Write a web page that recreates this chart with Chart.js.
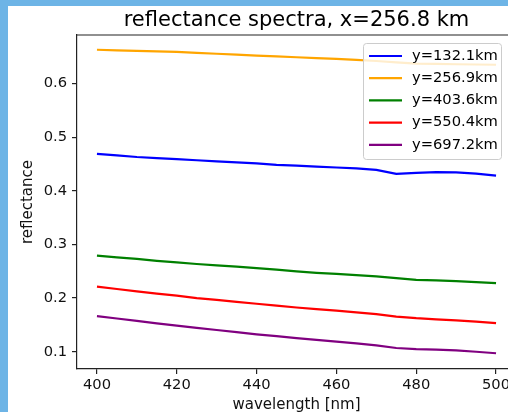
<!DOCTYPE html>
<html>
<head>
<meta charset="utf-8">
<script src="https://cdn.jsdelivr.net/npm/chart.js@4"></script>
<style>
  html, body { margin: 0; padding: 0; overflow: hidden; }
  body { background: #6db4e6; width: 508px; height: 412px; position: relative; }
  #wrap { position: absolute; left: 8px; top: 6px; width: 520px; height: 420px; background: #fff; }
  canvas { display: block; }
</style>
</head>
<body>
<div id="wrap"><canvas id="spectra" width="520" height="420"></canvas></div>
<script>
// wavelength samples [nm]
const wavelengths = [400, 405, 410, 415, 420, 425, 430, 435, 440, 445, 450,
                     455, 460, 465, 470, 475, 480, 485, 490, 495, 500];

const seriesLabels = ['y=132.1km', 'y=256.9km', 'y=403.6km', 'y=550.4km', 'y=697.2km'];
const seriesColors = ['#0000ff', '#ffa500', '#008000', '#ff0000', '#800080'];

// reflectance
const refl132 = [0.469, 0.466, 0.463, 0.461, 0.459, 0.457, 0.455, 0.453, 0.451, 0.4485, 0.447,
                 0.445, 0.4435, 0.442, 0.439, 0.4315, 0.4335, 0.4348, 0.4345, 0.432, 0.4285];
const refl257 = [0.663, 0.662, 0.661, 0.660, 0.659, 0.657, 0.6555, 0.654, 0.652, 0.6505, 0.649,
                 0.6475, 0.646, 0.644, 0.642, 0.6395, 0.637, 0.6365, 0.636, 0.6355, 0.635];
const refl404 = [0.279, 0.276, 0.273, 0.2695, 0.2665, 0.2636, 0.261, 0.2585, 0.256, 0.253, 0.2497,
                 0.247, 0.245, 0.243, 0.2405, 0.2374, 0.234, 0.233, 0.2315, 0.2298, 0.228];
const refl550 = [0.2215, 0.217, 0.2125, 0.2085, 0.2045, 0.200, 0.1965, 0.193, 0.1895, 0.186, 0.1825,
                 0.1795, 0.1765, 0.1735, 0.170, 0.1655, 0.1625, 0.1605, 0.1585, 0.156, 0.1533];
const refl697 = [0.1665, 0.162, 0.1575, 0.153, 0.1485, 0.1445, 0.1405, 0.1365, 0.1325, 0.129, 0.1255,
                 0.122, 0.119, 0.1155, 0.112, 0.107, 0.105, 0.104, 0.1025, 0.100, 0.0972];

const xTicks = [400, 420, 440, 460, 480, 500];
const yTicks = [0.1, 0.2, 0.3, 0.4, 0.5, 0.6];

const allSeries = [refl132, refl257, refl404, refl550, refl697];

const datasets = allSeries.map((vals, i) => ({
  label: seriesLabels[i],
  data: vals.map((v, j) => ({ x: wavelengths[j], y: v })),
  borderColor: seriesColors[i],
  backgroundColor: seriesColors[i],
  borderWidth: 2.2,
  pointRadius: 0,
  tension: 0,
  fill: false
}));

const axisColor = '#222';
const tickFont = { family: 'DejaVu Sans', size: 14.7 };

// matplotlib style box legend + top spine
const boxLegend = {
  id: 'boxLegend',
  afterDraw(chart) {
    const ctx = chart.ctx;
    const area = chart.chartArea;
    ctx.save();
    // top spine
    ctx.strokeStyle = axisColor;
    ctx.lineWidth = 1.2;
    ctx.beginPath();
    ctx.moveTo(area.left, area.top);
    ctx.lineTo(area.right, area.top);
    ctx.stroke();

    const w = 138, h = 116;
    const x0 = area.right - 15 - w;
    const y0 = area.top + 8;
    ctx.beginPath();
    ctx.roundRect(x0 + 0.5, y0 + 0.5, w, h, 3);
    ctx.fillStyle = 'rgba(255,255,255,0.8)';
    ctx.fill();
    ctx.strokeStyle = '#cccccc';
    ctx.lineWidth = 1;
    ctx.stroke();

    ctx.font = '14.7px "DejaVu Sans"';
    ctx.textBaseline = 'middle';
    ctx.textAlign = 'left';
    chart.data.datasets.forEach((ds, i) => {
      const yy = y0 + 13 + i * 22.2;
      ctx.strokeStyle = ds.borderColor;
      ctx.lineWidth = 2.2;
      ctx.beginPath();
      ctx.moveTo(x0 + 6, yy);
      ctx.lineTo(x0 + 39, yy);
      ctx.stroke();
      ctx.fillStyle = '#000';
      ctx.fillText(ds.label, x0 + 49, yy);
    });
    ctx.restore();
  }
};

new Chart(document.getElementById('spectra'), {
  type: 'line',
  data: { datasets: datasets },
  options: {
    responsive: false,
    animation: false,
    layout: { padding: { left: 0, right: 12, top: 0, bottom: 0 } },
    plugins: {
      legend: { display: false },
      tooltip: { enabled: false },
      title: {
        display: true,
        text: 'reflectance spectra, x=256.8 km',
        fullSize: false,
        color: '#000',
        font: { family: 'DejaVu Sans', size: 21, weight: 'normal' },
        padding: { top: 2.4, bottom: 1.4 }
      }
    },
    scales: {
      x: {
        type: 'linear',
        min: 395,
        max: 505,
        afterBuildTicks: s => { s.ticks = xTicks.map(v => ({ value: v })); },
        afterFit: s => { s.height = 57; },
        ticks: { color: '#111', font: tickFont, padding: 2.2, maxRotation: 0 },
        grid: { display: true, drawOnChartArea: false, drawTicks: true, tickLength: 5, color: axisColor, lineWidth: 1.2 },
        border: { display: true, color: axisColor, width: 1.2 },
        title: {
          display: true,
          text: 'wavelength [nm]',
          color: '#111',
          font: { family: 'DejaVu Sans', size: 15 },
          padding: { top: 0, bottom: 11.5 }
        }
      },
      y: {
        min: 0.0678,
        max: 0.6905,
        afterBuildTicks: s => { s.ticks = yTicks.map(v => ({ value: v })); },
        afterFit: s => { s.width = 69; },
        ticks: { color: '#111', font: tickFont, padding: 5, callback: v => v.toFixed(1) },
        grid: { display: true, drawOnChartArea: false, drawTicks: true, tickLength: 5, color: axisColor, lineWidth: 1.2 },
        border: { display: true, color: axisColor, width: 1.2 },
        title: {
          display: true,
          text: 'reflectance',
          color: '#111',
          font: { family: 'DejaVu Sans', size: 15 },
          padding: { top: 11.1, bottom: 0 }
        }
      }
    }
  },
  plugins: [boxLegend]
});
</script>
</body>
</html>
